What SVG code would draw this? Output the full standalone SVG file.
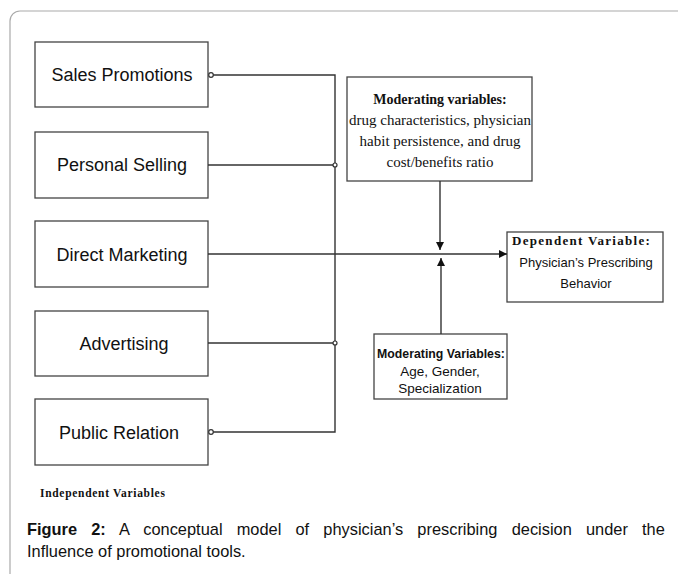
<svg xmlns="http://www.w3.org/2000/svg" width="678" height="574" viewBox="0 0 678 574">
<style>
.box{fill:#fff;stroke:#444;stroke-width:1.3}
.lbl{font-family:"Liberation Sans",Arial,sans-serif;font-size:18px;fill:#111;text-anchor:middle}
.ln{stroke:#333;stroke-width:1.4;fill:none}
.tb{font-family:"Liberation Serif","Times New Roman",serif;font-weight:bold;fill:#111}
.tr{font-family:"Liberation Serif","Times New Roman",serif;fill:#111}
.sa{font-family:"Liberation Sans",Arial,sans-serif;fill:#111}
</style>
<defs>
<marker id="arr" viewBox="0 0 10 10" refX="10" refY="5" markerWidth="8" markerHeight="8" markerUnits="userSpaceOnUse" orient="auto"><path d="M0,0 L10,5 L0,10 z" fill="#111"/></marker>
</defs>
<rect width="678" height="574" fill="#fff"/>
<path d="M10,574 V21 A10,10 0 0 1 20,11 H678" fill="none" stroke="#aaa" stroke-width="1.2"/>
<g id="sales"><rect class="box" x="35" y="42" width="173" height="65"/><text class="lbl" x="122" y="81">Sales Promotions</text></g>
<g id="personal"><rect class="box" x="35" y="132" width="173" height="66"/><text class="lbl" x="122" y="171">Personal Selling</text></g>
<g id="direct"><rect class="box" x="35" y="221" width="173" height="66"/><text class="lbl" x="122" y="261">Direct Marketing</text></g>
<g id="advertising"><rect class="box" x="35" y="311" width="173" height="65"/><text class="lbl" x="124" y="350">Advertising</text></g>
<g id="public"><rect class="box" x="35" y="399" width="173" height="66"/><text class="lbl" x="119" y="439">Public Relation</text></g>
<g id="mod-top"><rect class="box" x="347" y="77" width="185" height="104"/>
<text class="tb" x="440" y="104" font-size="14" text-anchor="middle">Moderating variables:</text>
<text class="tr" x="440" y="125" font-size="15" text-anchor="middle">drug characteristics, physician</text>
<text class="tr" x="440" y="146" font-size="15" text-anchor="middle">habit persistence, and drug</text>
<text class="tr" x="440" y="167" font-size="15" text-anchor="middle">cost/benefits ratio</text></g>
<g id="dependent"><rect class="box" x="507" y="232" width="156" height="70"/>
<text class="tb" x="512" y="245" font-size="13" letter-spacing="1.3">Dependent Variable:</text>
<text class="sa" x="586" y="267" font-size="13" text-anchor="middle">Physician’s Prescribing</text>
<text class="sa" x="586" y="288" font-size="13" text-anchor="middle">Behavior</text></g>
<g id="mod-bottom"><rect class="box" x="374" y="334" width="133" height="65"/>
<text class="sa" x="441" y="358" font-size="12.3" font-weight="bold" text-anchor="middle">Moderating Variables:</text>
<text class="sa" x="440" y="376" font-size="13.5" text-anchor="middle">Age, Gender,</text>
<text class="sa" x="440" y="393" font-size="13.5" text-anchor="middle">Specialization</text></g>
<g id="connectors">
<path class="ln" d="M213,75 H335 V432 H213"/>
<path class="ln" d="M208,165 H335"/>
<path class="ln" d="M208,343 H335"/>
<path class="ln" d="M208,254 H507" marker-end="url(#arr)"/>
<path class="ln" d="M440,181 V250" marker-end="url(#arr)"/>
<path class="ln" d="M441,334 V258" marker-end="url(#arr)"/>
<circle cx="211" cy="75" r="2.3" fill="#fff" stroke="#333" stroke-width="1.2"/>
<circle cx="211" cy="432" r="2.3" fill="#fff" stroke="#333" stroke-width="1.2"/>
<circle cx="335" cy="165" r="2" fill="#fff" stroke="#333" stroke-width="1.2"/>
<circle cx="335" cy="343" r="2" fill="#fff" stroke="#333" stroke-width="1.2"/>
</g>
<text class="tb" x="40" y="497" font-size="11.5" letter-spacing="0.7">Independent Variables</text>
<text class="sa" x="27" y="535" font-size="16.4" word-spacing="9.6"><tspan font-weight="bold">Figure 2:</tspan> A conceptual model of physician’s prescribing decision under the</text>
<text class="sa" x="27" y="557" font-size="16.4">Influence of promotional tools.</text>
</svg>
